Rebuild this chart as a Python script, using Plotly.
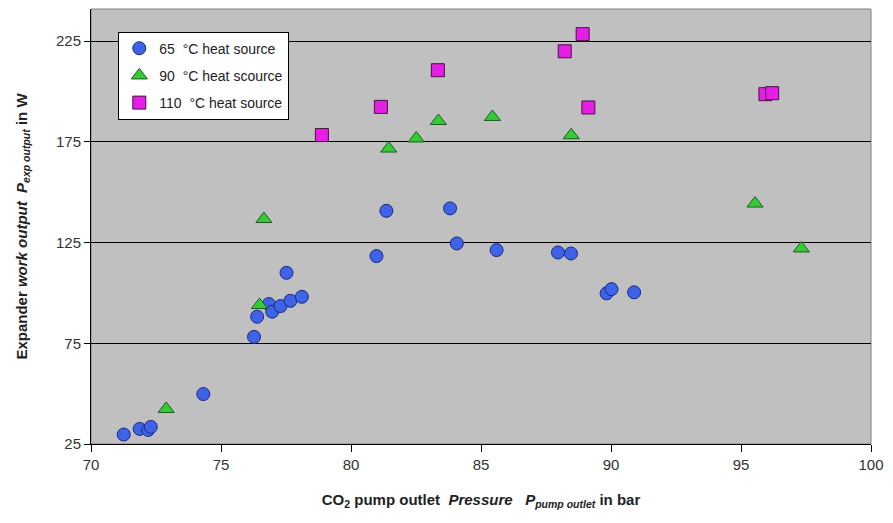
import plotly.graph_objects as go

# 65 °C heat source (blue circles)
x65 = [71.26, 71.87, 72.2, 72.3, 74.32, 76.27, 76.39, 76.84, 76.97, 77.29, 77.67, 78.11,
       77.52, 80.98, 81.36, 83.81, 84.07, 85.60, 87.96, 88.46, 89.83, 90.02, 90.89]
y65 = [29.7, 32.5, 32.0, 33.5, 49.8, 78.2, 88.2, 94.5, 90.7, 93.5, 96.1, 98.1,
       110.0, 118.3, 140.8, 142.0, 124.6, 121.3, 120.1, 119.6, 99.8, 101.9, 100.3]

# 90 °C heat source (green triangles)
x90 = [72.89, 76.48, 76.65, 81.45, 82.51, 83.36, 85.44, 88.47, 95.54, 97.32]
y90 = [42.4, 94.0, 136.7, 171.7, 176.7, 185.4, 187.4, 178.3, 144.4, 122.1]

# 110 °C heat source (magenta squares)
x110 = [78.88, 81.15, 83.34, 88.22, 88.91, 89.13, 95.94, 96.20]
y110 = [178.4, 192.4, 210.6, 220.0, 228.5, 192.1, 198.7, 199.2]

names = ["65\u00a0\u00a0\u00b0C heat source", "90\u00a0\u00a0\u00b0C heat scource", "110\u00a0\u00a0\u00b0C heat source"]
xticks = [70, 75, 80, 85, 90, 95, 100]
yticks = [25, 75, 125, 175, 225]

fig = go.Figure()
fig.add_trace(go.Scatter(x=x65, y=y65, mode="markers", name=names[0], legendgroup="a",
                         marker=dict(symbol="circle", size=13, color="#3f63e6",
                                     line=dict(color="#1a2a80", width=1))))
fig.add_trace(go.Scatter(x=x90, y=y90, mode="markers", name=names[1], legendgroup="b",
                         marker=dict(symbol="triangle-up", size=14, color="#33cc33",
                                     line=dict(color="#1f5a1f", width=1))))
fig.add_trace(go.Scatter(x=x110, y=y110, mode="markers", name=names[2], legendgroup="c",
                         marker=dict(symbol="square", size=13, color="#e61fe6",
                                     line=dict(color="#4a1040", width=1))))

fig.add_shape(type="rect", xref="paper", yref="paper", x0=0, x1=1, y0=0, y1=1,
              line=dict(color="#808080", width=1), layer="below")

fig.update_layout(
    width=893, height=523,
    margin=dict(l=91, r=17, t=9, b=79),
    paper_bgcolor="white", plot_bgcolor="#c0c0c0",
    font=dict(family="Liberation Sans, Arial, sans-serif", size=14, color="#333333"),
    showlegend=True,
    legend=dict(x=0.035, y=0.948, xanchor="left", yanchor="top",
                bgcolor="white", bordercolor="black", borderwidth=1,
                font=dict(size=14, color="#222222"), tracegroupgap=6,
                itemwidth=30),
    xaxis=dict(range=[70, 100], tickvals=xticks, ticks="outside", ticklen=7,
               tickcolor="black", showline=True, linecolor="black", linewidth=1,
               showgrid=False, zeroline=False, tickfont=dict(size=15),
               title=dict(text="<b>CO<sub>2</sub> pump outlet  <i>Pressure</i>   <i>P</i><sub><i>pump outlet</i></sub> in bar</b>",
                          font=dict(size=15, color="#222222"), standoff=22)),
    yaxis=dict(range=[25, 241], tickvals=yticks, ticks="outside", ticklen=6,
               tickcolor="black", showline=True, linecolor="black", linewidth=1,
               showgrid=True, gridcolor="black", gridwidth=1, zeroline=False,
               tickfont=dict(size=15),
               title=dict(text="<b>Expander <i>work output</i>  <i>P</i><sub><i>exp output</i></sub> in W</b>",
                          font=dict(size=15, color="#222222"), standoff=24)),
)

fig.write_html("out.html")
